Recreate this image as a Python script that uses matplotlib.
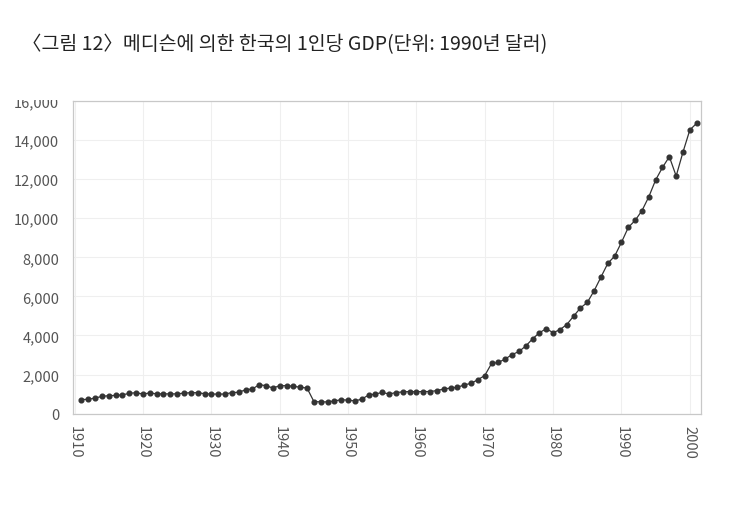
import numpy as np
import matplotlib.pyplot as plt
from matplotlib.patches import Rectangle

plt.rcParams['font.family'] = ['Noto Sans CJK KR', 'DejaVu Sans']

# ----------------------------------------------------------------------
# DATA: Korea GDP per capita (1990 dollars)
# ----------------------------------------------------------------------
years = list(range(1911, 2002))
gdp_per_capita = [
    720, 730, 800, 880, 920, 930, 960, 1040, 1070, 1000,      # 1911-1920
    1060, 1010, 1010, 1010, 1010, 1050, 1070, 1070, 1020, 1000,  # 1921-1930
    1000, 1000, 1080, 1090, 1220, 1260, 1480, 1430, 1310, 1430,  # 1931-1940
    1430, 1400, 1350, 1310, 620, 600, 600, 650, 710, 690,       # 1941-1950
    650, 740, 950, 1000, 1090, 1000, 1080, 1110, 1130, 1120,    # 1951-1960
    1130, 1130, 1180, 1260, 1310, 1350, 1470, 1550, 1740, 1950,  # 1961-1970
    2570, 2620, 2800, 3020, 3180, 3460, 3830, 4140, 4350, 4140,  # 1971-1980
    4300, 4560, 4990, 5410, 5690, 6290, 6990, 7690, 8060, 8770,  # 1981-1990
    9530, 9890, 10390, 11100, 11960, 12600, 13150, 12160, 13390, 14520,  # 1991-2000
    14860,  # 2001
]

title_text = "〈그림 12〉메디슨에 의한 한국의 1인당 GDP(단위: 1990년 달러)"
x_ticks = list(range(1910, 2001, 10))
y_ticks = list(range(0, 16001, 2000))

# ----------------------------------------------------------------------
# FIGURE
# ----------------------------------------------------------------------
fig = plt.figure(figsize=(7.4, 5.1), dpi=100)
ax = fig.add_axes([0.099, 0.187, 0.848, 0.613])

ax.plot(years, gdp_per_capita, color='#333333', linewidth=0.9,
        marker='o', markersize=3.4, markerfacecolor='#333333',
        markeredgecolor='#333333')

ax.set_xlim(1909.8, 2001.6)
ax.set_ylim(0, 16000)
ax.set_xticks(x_ticks)
ax.set_yticks(y_ticks)
ax.set_yticklabels([f"{v:,}" for v in y_ticks])
ax.set_xticklabels([str(v) for v in x_ticks], rotation=270)

ax.tick_params(axis='both', length=0, colors='#555555', labelsize=10.5)
ax.tick_params(axis='x', pad=8)
ax.tick_params(axis='y', pad=10)

ax.grid(True, color='#efefef', linewidth=0.8)
ax.set_axisbelow(True)
for side in ['left', 'bottom', 'right', 'top']:
    ax.spines[side].set_color('#c8c8c8')
    ax.spines[side].set_linewidth(0.9)

fig.text(22 / 740, 1 - 45 / 510, title_text, fontsize=14, fontweight='medium',
         color='#222222', va='center', ha='left')

# scan cuts off the top of the "16,000" label
fig.patches.append(Rectangle((0.0, 1 - 101 / 510), 70 / 740, 22 / 510,
                             transform=fig.transFigure, facecolor='white',
                             edgecolor='none', zorder=10))

plt.savefig("out.png", dpi=100)
plt.close()
